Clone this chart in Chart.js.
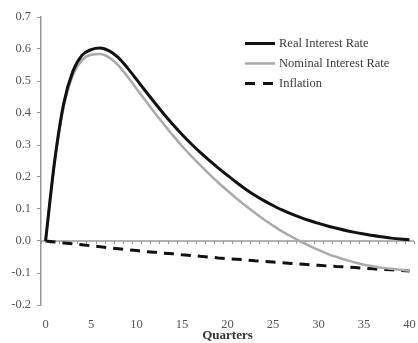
<!DOCTYPE html>
<html>
<head>
<meta charset="utf-8">
<script src="https://cdn.jsdelivr.net/npm/chart.js@4.4.1/dist/chart.umd.min.js"></script>
<style>
  html, body { margin: 0; padding: 0; background: #fff; }
  #wrap { width: 418px; height: 343px; }
</style>
</head>
<body>
<div id="wrap"><canvas id="chart" width="418" height="343"></canvas></div>
<script>
const quarters = [];
for (let q = 0; q <= 40; q++) quarters.push(q);

const realRate = [
  0, 0.25, 0.43, 0.53, 0.58, 0.598, 0.603, 0.594, 0.573, 0.541,
  0.505, 0.468, 0.432, 0.397, 0.364, 0.333, 0.304, 0.277, 0.252, 0.228,
  0.205, 0.183, 0.162, 0.143, 0.126, 0.111, 0.097, 0.085, 0.074, 0.064,
  0.055, 0.047, 0.040, 0.033, 0.027, 0.022, 0.017, 0.013, 0.009, 0.006,
  0.004
];

const nominalRate = [
  0, 0.245, 0.42, 0.518, 0.565, 0.582, 0.584, 0.573, 0.549, 0.514,
  0.476, 0.438, 0.401, 0.365, 0.330, 0.297, 0.266, 0.237, 0.209, 0.182,
  0.157, 0.133, 0.110, 0.088, 0.067, 0.048, 0.030, 0.014, -0.001, -0.015,
  -0.028, -0.040, -0.050, -0.059, -0.067, -0.074, -0.079, -0.084, -0.087, -0.090,
  -0.093
];

const inflation = [
  0, -0.003, -0.006, -0.009, -0.012, -0.015, -0.018, -0.021, -0.024, -0.027,
  -0.030, -0.033, -0.035, -0.038, -0.040, -0.043, -0.045, -0.048, -0.050, -0.053,
  -0.055, -0.057, -0.059, -0.062, -0.064, -0.066, -0.068, -0.070, -0.072, -0.074,
  -0.076, -0.078, -0.080, -0.081, -0.083, -0.085, -0.087, -0.089, -0.090, -0.092,
  -0.094
];

const xTicks = [0, 5, 10, 15, 20, 25, 30, 35, 40];
const yTicks = [-0.2, -0.1, 0.0, 0.1, 0.2, 0.3, 0.4, 0.5, 0.6, 0.7];

const seriesNames = ['Real Interest Rate', 'Nominal Interest Rate', 'Inflation'];

const axisGray = '#9a9a9a';
const textGray = '#555555';
const serif = '"Liberation Serif", "DejaVu Serif", serif';

function toPoints(values) {
    return values.map((v, i) => ({ x: quarters[i], y: v }));
}

// zero line with a small tick at every category boundary
const zeroAxis = {
    id: 'zeroAxis',
    beforeDatasetsDraw(chart) {
        const ctx = chart.ctx;
        const xs = chart.scales.x;
        const ys = chart.scales.y;
        const y0 = ys.getPixelForValue(0);
        ctx.save();
        ctx.strokeStyle = axisGray;
        ctx.lineWidth = 1.5;
        ctx.beginPath();
        ctx.moveTo(chart.chartArea.left, y0);
        ctx.lineTo(chart.chartArea.right, y0);
        ctx.stroke();
        ctx.lineWidth = 1;
        for (let k = 0; k <= quarters.length; k++) {
            const x = Math.round(xs.getPixelForValue(k - 0.5)) + 0.5;
            ctx.beginPath();
            ctx.moveTo(x, y0);
            ctx.lineTo(x, y0 + 3);
            ctx.stroke();
        }
        ctx.restore();
    }
};

// legend drawn inside the plot, top right
const innerLegend = {
    id: 'innerLegend',
    afterDatasetsDraw(chart) {
        const ctx = chart.ctx;
        const x0 = 245, y0 = 43.5, gap = 20, len = 30;
        ctx.save();
        ctx.font = '12.5px ' + serif;
        ctx.textBaseline = 'middle';
        chart.data.datasets.forEach((ds, i) => {
            const y = y0 + i * gap;
            const dashed = ds.borderDash && ds.borderDash.length;
            ctx.strokeStyle = ds.borderColor;
            ctx.lineWidth = ds.borderWidth;
            ctx.setLineDash(dashed ? [10, 8] : []);
            ctx.beginPath();
            ctx.moveTo(x0, y);
            ctx.lineTo(x0 + (dashed ? 28 : len), y);
            ctx.stroke();
            ctx.setLineDash([]);
            ctx.fillStyle = '#3a3a3a';
            ctx.fillText(ds.label, x0 + len + 4, y);
        });
        ctx.restore();
    }
};

document.addEventListener('DOMContentLoaded', () => {
    const ctx = document.getElementById('chart').getContext('2d');
    new Chart(ctx, {
        type: 'line',
        data: {
            datasets: [
                { label: seriesNames[0], data: toPoints(realRate), borderColor: '#111111', borderWidth: 3, pointRadius: 0, cubicInterpolationMode: 'monotone', fill: false },
                { label: seriesNames[1], data: toPoints(nominalRate), borderColor: '#aaaaaa', borderWidth: 2.5, pointRadius: 0, cubicInterpolationMode: 'monotone', fill: false },
                { label: seriesNames[2], data: toPoints(inflation), borderColor: '#111111', borderWidth: 3, borderDash: [10, 7], pointRadius: 0, fill: false },
            ],
        },
        options: {
            responsive: false,
            animation: false,
            layout: { padding: { top: 17, right: 4, left: 0, bottom: 0 } },
            plugins: {
                legend: { display: false },
                tooltip: { enabled: false },
            },
            scales: {
                x: {
                    type: 'linear',
                    min: -0.5,
                    max: 40.5,
                    afterBuildTicks: (scale) => { scale.ticks = xTicks.map(v => ({ value: v })); },
                    afterFit: (scale) => { scale.height = 38; scale.paddingLeft = 0; scale.paddingRight = 0; },
                    grid: { display: false },
                    border: { display: false },
                    ticks: { color: textGray, font: { family: serif, size: 12.5 }, padding: 4, maxRotation: 0 },
                    title: { display: true, text: 'Quarters', color: '#333', font: { family: serif, size: 13, weight: 'bold' }, padding: { top: 0, bottom: 0 } },
                },
                y: {
                    min: -0.2,
                    max: 0.7,
                    afterBuildTicks: (scale) => { scale.ticks = yTicks.map(v => ({ value: v })); },
                    afterFit: (scale) => { scale.width = 41; },
                    grid: { drawOnChartArea: false, drawTicks: true, tickLength: 4, color: axisGray },
                    border: { display: true, color: axisGray, width: 1.5 },
                    ticks: { color: textGray, font: { family: serif, size: 12.5 }, padding: 6, callback: (v) => v.toFixed(1) },
                },
            },
        },
        plugins: [zeroAxis, innerLegend],
    });
});
</script>
</body>
</html>
